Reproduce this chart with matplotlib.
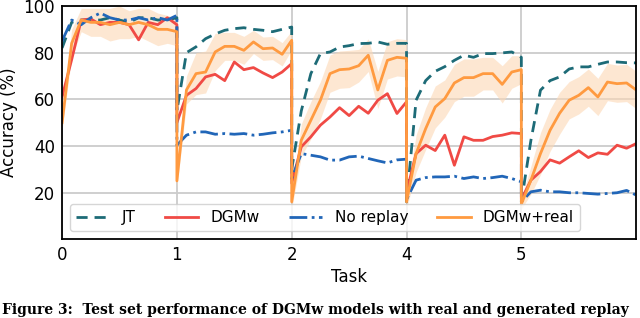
import numpy as np
import matplotlib
matplotlib.use('Agg')
import matplotlib.pyplot as plt

matplotlib.rcParams['font.family'] = 'DejaVu Sans'
matplotlib.rcParams['font.size'] = 12

# Task positions and tick labels (the 4th task is labelled "4")
task_pos = [0, 1, 2, 3, 4]
task_labels = ['0', '1', '2', '4', '5']
n_per_task = 13

# Accuracy (%) per evaluation step, 13 steps per task
jt = [82, 93, 94, 94, 94, 95, 94, 93, 95, 95, 94, 94, 95,
      55, 80, 82.5, 86, 88, 89.6, 90.3, 90.7, 90, 89.6, 89, 90, 91,
      30, 55, 71, 79.6, 80.3, 82.4, 83, 83.9, 84, 84.6, 83.6, 84, 84,
      16, 59.6, 68, 72, 74, 76.7, 78.9, 78, 79.6, 79.6, 79.9, 80.3, 78,
      16, 42.4, 63.9, 68, 69.6, 73, 73.9, 73.9, 75, 76, 76, 75.7, 75.6]
dgmw = [61, 77, 94, 94.5, 92, 93, 93, 92, 85.5, 93, 92, 95, 92,
        50, 61.7, 64.6, 69.6, 70.7, 68, 76, 72.7, 73.6, 71.3, 69.3, 71.7, 75.3,
        24, 39.6, 43.9, 48.9, 52.4, 56.4, 53, 57, 54, 59.6, 62.4, 53.9, 58.9,
        20, 36.7, 40.3, 38, 44.6, 31.7, 43.9, 42.4, 42.4, 44, 44.6, 45.6, 45.3,
        17, 25.3, 29, 34, 32.6, 35.3, 37.9, 35, 37, 36.4, 40.3, 39, 41]
no_replay = [85, 94, 92, 95, 97, 95, 94, 94, 95, 94, 95, 94, 96,
             40.3, 44.6, 46, 46, 45, 45.3, 45, 45.3, 44.6, 45, 45.6, 46, 46.7,
             26, 36.7, 36, 35.3, 33.9, 33.9, 35.3, 35.6, 34.6, 33.6, 32.7, 34, 34.3,
             17, 25.3, 26.4, 26.7, 26.7, 27, 26, 26.7, 26, 26.4, 27, 26, 24.6,
             16, 20.3, 21, 20.3, 20.3, 19.9, 19.9, 19.6, 19.3, 19.6, 19.9, 20.9, 18.9]
dgmw_real = [50, 84, 94, 93, 93, 92, 93, 92, 93, 92, 90, 90, 89,
             25, 64, 71, 71.7, 80.3, 82.7, 82.7, 81, 84.6, 81.7, 82, 79.3, 85.3,
             16, 42.4, 51, 59.6, 71, 72.7, 73, 74.4, 78.9, 64, 76.7, 78, 77.6,
             16, 36.7, 47.4, 56.7, 60.3, 67, 69.3, 69.3, 71, 71, 66.4, 71.7, 72.7,
             15, 25.3, 36.7, 46.7, 54, 59.6, 61.7, 65, 61, 67.4, 66.7, 67, 64]
dgmw_real_std = [3, 6, 5, 6, 6, 7, 7, 6, 6, 7, 7, 6, 6,
                 3, 6, 9, 9, 8, 6, 6, 6, 5, 5, 5, 5, 4,
                 3, 7, 8, 8, 8, 8, 8, 7, 7, 8, 8, 8, 8,
                 3, 8, 9, 9, 8, 8, 8, 8, 7, 7, 8, 7, 6,
                 2, 6, 9, 9, 9, 8, 8, 8, 8, 8, 8, 8, 8]

x = np.concatenate([t + np.linspace(0, 1, n_per_task) for t in task_pos])
mean = np.array(dgmw_real)
std = np.array(dgmw_real_std)

fig = plt.figure(figsize=(6.4, 3.18), dpi=100)
ax = fig.add_axes([0.097, 0.248, 0.897, 0.733])

ax.fill_between(x, mean - std, mean + std, color='#fdd8b5', alpha=0.6, linewidth=0)
ax.plot(x, jt, color='#1d6b77', lw=2, ls=(0, (4, 2.5)), label='JT')
ax.plot(x, dgmw, color='#f04a45', lw=2, label='DGMw')
ax.plot(x, no_replay, color='#2166b8', lw=2, ls='-.', label='No replay')
ax.plot(x, dgmw_real, color='#ff9a40', lw=2, label='DGMw+real')

ax.set_xlim(0, 5)
ax.set_ylim(0, 100)
ax.set_xticks(task_pos)
ax.set_xticklabels(task_labels)
ax.set_yticks([20, 40, 60, 80, 100])
ax.grid(True, color='#cccccc', linewidth=1.3)
ax.set_axisbelow(True)
for s in ax.spines.values():
    s.set_linewidth(1.3)
ax.tick_params(length=0, pad=5)
ax.set_xlabel('Task', labelpad=3)
ax.set_ylabel('Accuracy (%)', labelpad=4)

ax.legend(loc='lower left', ncol=4, fontsize=11, handlelength=2.2,
          columnspacing=1.9, borderaxespad=0.5, framealpha=0.8,
          edgecolor='#cccccc', bbox_to_anchor=(0.0, 0.0))

fig.text(0.003, 0.004, 'Figure 3:  Test set performance of DGMw models with real and generated replay',
         family='DejaVu Serif', fontsize=10, fontweight='bold', va='bottom', ha='left')

fig.savefig('out.png', dpi=100)
